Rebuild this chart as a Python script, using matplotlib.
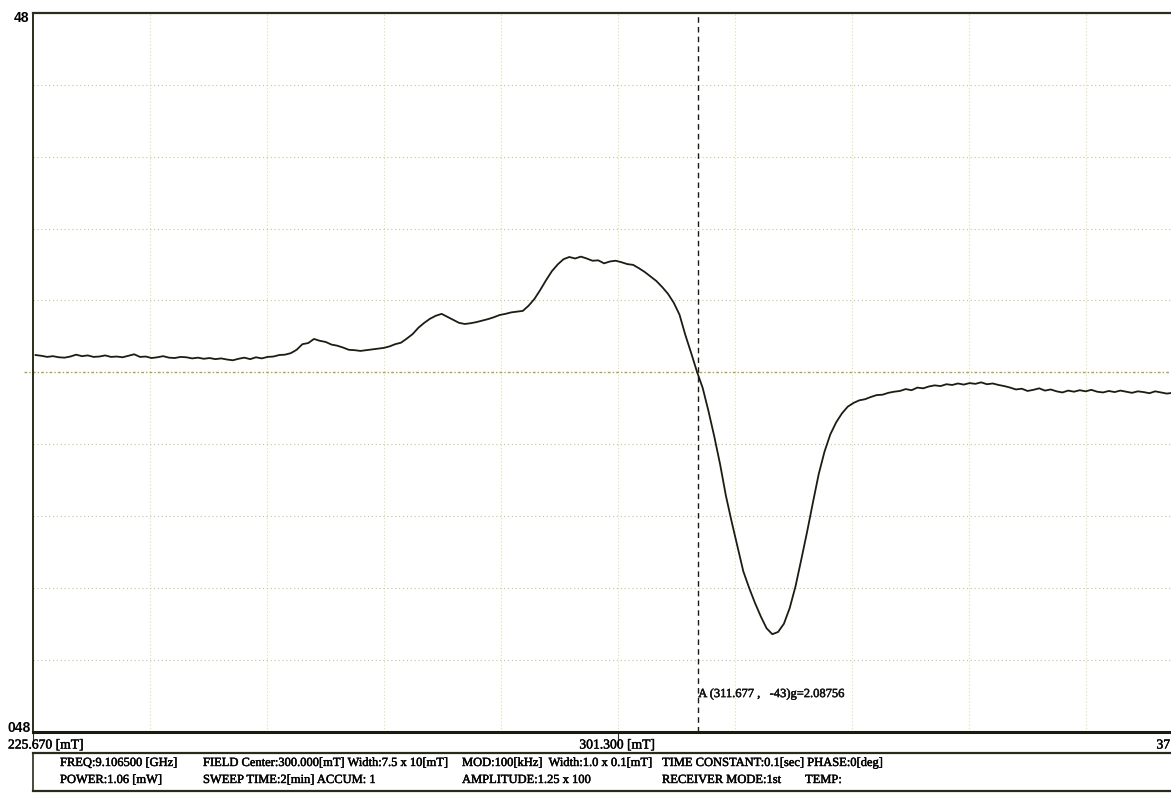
import matplotlib.pyplot as plt
import matplotlib.patheffects as pe
from matplotlib.lines import Line2D

plt.rcParams['font.family'] = ['Liberation Serif', 'DejaVu Serif']

W, H = 1171, 793

# sweep range and cursor
field_start = 225.670
field_end = 376.930
field_mid = 301.300
cursor_field = 311.677
cursor_value = -43
cursor_g = 2.08756
y_top, y_bottom = 48, -48

# recorded field points [mT]
field = [226.0, 226.75, 227.5, 228.25, 229.0, 229.75, 230.5, 231.25, 232.0, 232.75,
         233.5, 234.25, 235.0, 235.75, 236.5, 237.25, 238.0, 238.75, 239.5, 240.25,
         241.0, 241.75, 242.5, 243.25, 244.0, 244.75, 245.5, 246.25, 247.0, 247.75,
         248.5, 249.25, 250.0, 250.75, 251.5, 252.25, 253.0, 253.75, 254.5, 255.25,
         256.0, 256.75, 257.5, 258.25, 259.0, 259.75, 260.5, 261.25, 262.0, 262.75,
         263.5, 264.25, 265.0, 265.75, 266.5, 267.25, 268.0, 268.75, 269.5, 270.25,
         271.0, 271.75, 272.5, 273.25, 274.0, 274.75, 275.5, 276.25, 277.0, 277.75,
         278.5, 279.25, 280.0, 280.75, 281.5, 282.25, 283.0, 283.75, 284.5, 285.25,
         286.0, 286.75, 287.5, 288.25, 289.0, 289.75, 290.5, 291.25, 292.0, 292.75,
         293.5, 294.25, 295.0, 295.75, 296.5, 297.25, 298.0, 298.75, 299.5, 300.25,
         301.0, 301.75, 302.5, 303.25, 304.0, 304.75, 305.5, 306.25, 307.0, 307.75,
         308.5, 309.25, 310.0, 310.75, 311.5, 312.25, 313.0, 313.75, 314.5, 315.25,
         316.0, 316.75, 317.5, 318.25, 319.0, 319.75, 320.5, 321.25, 322.0, 322.75,
         323.5, 324.25, 325.0, 325.75, 326.5, 327.25, 328.0, 328.75, 329.5, 330.25,
         331.0, 331.75, 332.5, 333.25, 334.0, 334.75, 335.5, 336.25, 337.0, 337.75,
         338.5, 339.25, 340.0, 340.75, 341.5, 342.25, 343.0, 343.75, 344.5, 345.25,
         346.0, 346.75, 347.5, 348.25, 349.0, 349.75, 350.5, 351.25, 352.0, 352.75,
         353.5, 354.25, 355.0, 355.75, 356.5, 357.25, 358.0, 358.75, 359.5, 360.25,
         361.0, 361.75, 362.5, 363.25, 364.0, 364.75, 365.5, 366.25, 367.0, 367.75,
         368.5, 369.25, 370.0, 370.75, 371.5, 372.25, 373.0, 373.75, 374.5, 375.25,
         376.0]

# first-derivative signal
signal = [2.30, 2.20, 2.05, 2.15, 2.00, 1.95, 2.10, 2.35, 2.15, 2.25,
          2.05, 2.10, 2.25, 2.05, 2.10, 2.00, 2.20, 2.40, 2.05, 2.10,
          1.90, 2.00, 2.15, 1.95, 1.90, 2.05, 2.00, 1.85, 1.95, 1.80,
          1.90, 1.75, 1.85, 1.70, 1.60, 1.80, 1.95, 1.75, 2.00, 1.85,
          2.05, 2.10, 2.30, 2.35, 2.55, 3.00, 3.75, 3.90, 4.45, 4.20,
          4.05, 3.70, 3.55, 3.30, 3.00, 2.95, 2.85, 2.95, 3.05, 3.15,
          3.25, 3.45, 3.75, 3.95, 4.50, 5.10, 5.95, 6.60, 7.15, 7.55,
          7.80, 7.40, 7.00, 6.60, 6.45, 6.55, 6.70, 6.90, 7.10, 7.35,
          7.65, 7.80, 8.00, 8.10, 8.20, 8.90, 9.80, 11.00, 12.30, 13.50,
          14.40, 15.10, 15.40, 15.20, 15.45, 15.20, 14.90, 14.95, 14.55, 14.80,
          14.90, 14.70, 14.45, 14.35, 13.90, 13.40, 12.80, 12.20, 11.40, 10.50,
          9.30, 7.70, 5.00, 2.60, 0.10, -2.10, -5.20, -8.60, -12.30, -16.50,
          -20.00, -23.30, -26.60, -28.80, -30.80, -32.60, -34.20, -35.00, -34.70, -33.60,
          -31.50, -28.60, -25.00, -21.30, -17.40, -13.60, -10.60, -8.30, -6.70, -5.50,
          -4.60, -4.10, -3.75, -3.60, -3.30, -3.05, -3.00, -2.75, -2.60, -2.50,
          -2.25, -2.40, -2.05, -2.15, -1.90, -1.75, -1.85, -1.60, -1.70, -1.50,
          -1.65, -1.45, -1.55, -1.35, -1.60, -1.50, -1.70, -1.85, -2.05, -2.30,
          -2.20, -2.50, -2.35, -2.15, -2.45, -2.30, -2.55, -2.70, -2.45, -2.60,
          -2.40, -2.55, -2.35, -2.60, -2.70, -2.50, -2.65, -2.45, -2.60, -2.75,
          -2.55, -2.65, -2.80, -2.55, -2.70, -2.85, -2.75, -2.80, -2.70, -2.85,
          -2.75]

info_row1 = [(60, 'FREQ:9.106500 [GHz]'),
             (203, 'FIELD Center:300.000[mT] Width:7.5 x 10[mT]'),
             (462, 'MOD:100[kHz]  Width:1.0 x 0.1[mT]'),
             (662, 'TIME CONSTANT:0.1[sec] PHASE:0[deg]')]
info_row2 = [(60, 'POWER:1.06 [mW]'),
             (203, 'SWEEP TIME:2[min] ACCUM: 1'),
             (462, 'AMPLITUDE:1.25 x 100'),
             (662, 'RECEIVER MODE:1st'),
             (805, 'TEMP:')]

# printed text looks slightly heavy
heavy = [pe.withStroke(linewidth=0.35, foreground='#111111')]


def fx(px):
    return px / W


def fy(py):
    return 1 - py / H


fig = plt.figure(figsize=(W / 100, H / 100), dpi=100)
fig.patch.set_facecolor('white')

top_px, bot_px = 13, 731.5
ax = fig.add_axes([fx(33), fy(bot_px), 1170 / W, (bot_px - top_px) / H])
ax.set_xlim(field_start, field_end)
ax.set_ylim(y_bottom, y_top)

# grid: 10 x 10 divisions
step_x = (field_end - field_start) / 10
for k in range(1, 10):
    ax.axvline(field_start + k * step_x, color='#e4dca0', lw=0.8,
               ls=(0, (1, 2)), zorder=1)
step_y = (y_top - y_bottom) / 10
for k in range(1, 10):
    if k == 5:
        continue
    ax.axhline(y_bottom + k * step_y, color='#c9c196', lw=0.8,
               ls=(0, (1, 2.5)), zorder=1)

# zero line, running a little past the left spine
ax.add_line(Line2D([-0.008, 1], [0.5, 0.5], transform=ax.transAxes,
                   color='#b3a24a', lw=1.0, ls=(0, (2, 1.5, 1, 1.5)),
                   clip_on=False, zorder=2))

# cursor
ax.axvline(cursor_field, color='#1a1a10', lw=1.0, ls=(0, (4, 3)), zorder=3)
ax.text(cursor_field, cursor_value,
        'A (%.3f ,   %d)g=%.5f' % (cursor_field, cursor_value, cursor_g),
        fontsize=9.0, ha='left', va='center', color='#111111',
        path_effects=heavy)

ax.plot(field, signal, color='#1c1c12', lw=1.3, zorder=4)

ax.set_xticks([])
ax.set_yticks([])
ax.spines['top'].set_linewidth(1.6)
ax.spines['top'].set_color('#2c2c1c')
ax.spines['left'].set_linewidth(1.4)
ax.spines['left'].set_color('#2c2c1c')
ax.spines['bottom'].set_linewidth(2.2)
ax.spines['bottom'].set_color('#1a1a10')
ax.spines['right'].set_visible(False)

# small tick marks under the axis at the labelled fields
for fv in (field_start, field_mid):
    ax.add_line(Line2D([fv, fv], [0, -0.018], transform=ax.get_xaxis_transform(),
                       color='#333322', lw=0.8, clip_on=False))

# y extent labels
fig.text(fx(29), fy(18), '48', fontsize=10, fontweight='bold',
         family='Liberation Sans', ha='right', va='center')
fig.text(fx(31), fy(728), '048', fontsize=10, fontweight='bold',
         family='Liberation Sans', ha='right', va='center')

# field labels (only the start of the right one fits on screen)
fig.text(fx(8), fy(745), '%.3f [mT]' % field_start, fontsize=9.8,
         ha='left', va='center', path_effects=heavy)
fig.text(fx(617), fy(745), '%.3f [mT]' % field_mid, fontsize=9.8,
         ha='center', va='center', path_effects=heavy)
fig.text(fx(1170), fy(745), ('%.3f' % field_end)[:2], fontsize=9.8,
         ha='right', va='center', path_effects=heavy)

# parameter box
fig.add_artist(Line2D([fx(33), 1], [fy(753), fy(753)], color='#2a2a1a', lw=1.6))
fig.add_artist(Line2D([fx(33), 1], [fy(791), fy(791)], color='#2a2a1a', lw=1.6))
fig.add_artist(Line2D([fx(33), fx(33)], [fy(753), fy(791)], color='#2a2a1a', lw=1.2))
for x, s in info_row1:
    fig.text(fx(x), fy(763), s, fontsize=9.0, ha='left', va='center',
             path_effects=heavy)
for x, s in info_row2:
    fig.text(fx(x), fy(780), s, fontsize=9.0, ha='left', va='center',
             path_effects=heavy)

fig.savefig('out.png', dpi=100, facecolor='white')
